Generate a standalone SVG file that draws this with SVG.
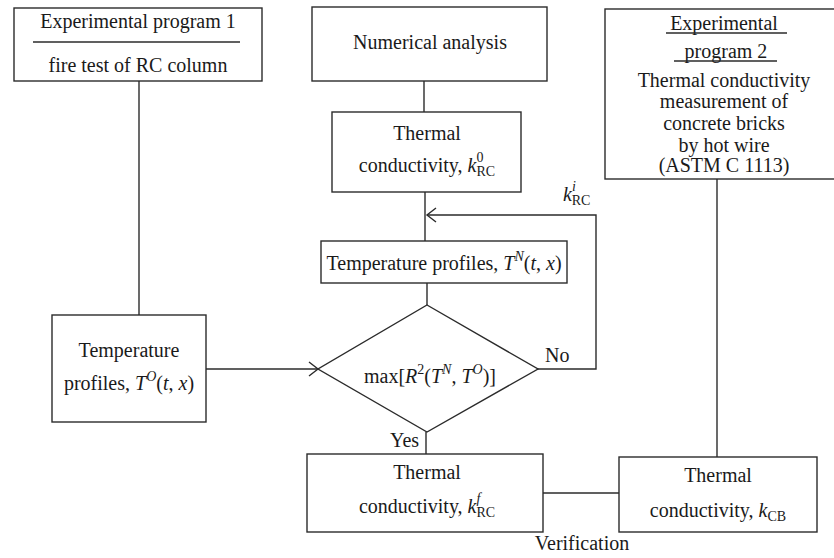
<svg xmlns="http://www.w3.org/2000/svg" width="834" height="558" viewBox="0 0 834 558">
<defs>
<style>
.box{fill:#fff;stroke:#2b2b2b;stroke-width:1.4}
.ln{fill:none;stroke:#2b2b2b;stroke-width:1.4}
text{font-family:"Liberation Serif","Times New Roman",serif;font-size:20px;fill:#1a1a1a}
.c{text-anchor:middle}
.i{font-style:italic}
.s{font-size:14px}
</style>
<marker id="arr" markerUnits="userSpaceOnUse" viewBox="-12 -9 14 18" markerWidth="14" markerHeight="18" refX="0" refY="0" orient="auto">
<path d="M-9,-7 L0,0 L-9,7" fill="none" stroke="#2b2b2b" stroke-width="1.4"/>
</marker>
</defs>
<rect width="834" height="558" fill="#fff"/>
<g id="connectors">
<line class="ln" x1="139" y1="81" x2="139" y2="315"/>
<line class="ln" x1="424" y1="81" x2="424" y2="112"/>
<line class="ln" x1="425" y1="192" x2="425" y2="241"/>
<polyline class="ln" points="538,369 596,369 596,215 427,215" marker-end="url(#arr)"/>
<line class="ln" x1="427" y1="283" x2="427" y2="305"/>
<line class="ln" x1="206" y1="369" x2="318" y2="369" marker-end="url(#arr)"/>
<line class="ln" x1="426" y1="432" x2="426" y2="454"/>
<line class="ln" x1="717" y1="179" x2="717" y2="457"/>
<line class="ln" x1="543" y1="493" x2="619" y2="493"/>
<text x="563" y="201"><tspan class="i">k</tspan><tspan class="s i" dy="-10">i</tspan><tspan class="s" dx="-4" dy="14">RC</tspan></text>
<text x="545" y="362">No</text>
<text x="390" y="447">Yes</text>
<text class="c" x="582" y="550">Verification</text>
</g>
<g id="exp1">
<rect class="box" x="14" y="8" width="248" height="73"/>
<text class="c" x="138" y="28">Experimental program 1</text>
<line class="ln" x1="33" y1="42" x2="240" y2="42"/>
<text class="c" x="138" y="72">fire test of RC column</text>
</g>
<g id="numerical">
<rect class="box" x="312" y="7" width="235" height="74"/>
<text class="c" x="430" y="49">Numerical analysis</text>
</g>
<g id="k0">
<rect class="box" x="332" y="112" width="189" height="80"/>
<text class="c" x="427" y="140">Thermal</text>
<text class="c" x="427" y="172">conductivity, <tspan class="i">k</tspan><tspan class="s" dy="-10">0</tspan><tspan class="s" dx="-7" dy="14">RC</tspan></text>
</g>
<g id="exp2">
<rect class="box" x="605" y="9" width="232" height="170"/>
<text class="c" x="724" y="30">Experimental</text>
<line class="ln" x1="666" y1="33" x2="787" y2="33"/>
<text class="c" x="726" y="58">program 2</text>
<line class="ln" x1="674" y1="61" x2="777" y2="61"/>
<text class="c" x="724" y="87">Thermal conductivity</text>
<text class="c" x="724" y="108">measurement of</text>
<text class="c" x="724" y="130">concrete bricks</text>
<text class="c" x="724" y="152">by hot wire</text>
<text class="c" x="724" y="172">(ASTM C 1113)</text>
</g>
<g id="tempN">
<rect class="box" x="321" y="241" width="246" height="42"/>
<text class="c" x="444" y="270">Temperature profiles, <tspan class="i">T</tspan><tspan class="s i" dy="-9">N</tspan><tspan dy="9">(</tspan><tspan class="i">t</tspan>, <tspan class="i">x</tspan>)</text>
</g>
<g id="decision">
<polygon class="box" points="427,305 538,369 427,432 318,369"/>
<text class="c" x="430" y="383">max[<tspan class="i">R</tspan><tspan class="s" dy="-9">2</tspan><tspan dy="9">(</tspan><tspan class="i">T</tspan><tspan class="s i" dy="-9">N</tspan><tspan dy="9">, </tspan><tspan class="i">T</tspan><tspan class="s i" dy="-9">O</tspan><tspan dy="9">)]</tspan></text>
</g>
<g id="tempO">
<rect class="box" x="52" y="315" width="154" height="107"/>
<text class="c" x="129" y="357">Temperature</text>
<text class="c" x="129" y="390">profiles, <tspan class="i">T</tspan><tspan class="s i" dy="-9">O</tspan><tspan dy="9">(</tspan><tspan class="i">t</tspan>, <tspan class="i">x</tspan>)</text>
</g>
<g id="kf">
<rect class="box" x="307" y="454" width="236" height="78"/>
<text class="c" x="427" y="479">Thermal</text>
<text class="c" x="427" y="513">conductivity, <tspan class="i">k</tspan><tspan class="s i" dy="-10">f</tspan><tspan class="s" dx="-4" dy="14">RC</tspan></text>
</g>
<g id="kcb">
<rect class="box" x="619" y="457" width="198" height="75"/>
<text class="c" x="718" y="482">Thermal</text>
<text class="c" x="718" y="517">conductivity, <tspan class="i">k</tspan><tspan class="s" dy="4">CB</tspan></text>
</g>
</svg>
